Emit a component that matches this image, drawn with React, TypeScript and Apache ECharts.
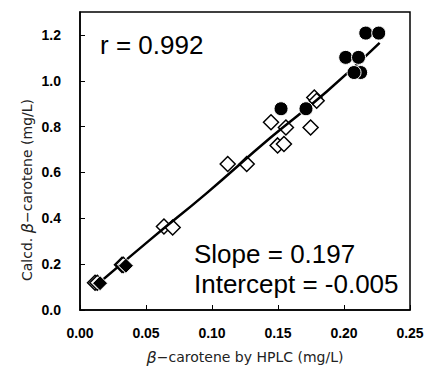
import React, { useEffect, useRef } from "react";
import * as echarts from "echarts";

// Open diamonds (white fill)
const openDiamondX = [0.0114, 0.0131, 0.0318, 0.0328, 0.0636, 0.0702, 0.1119, 0.1263, 0.1447, 0.156, 0.1747, 0.1497, 0.1545, 0.1775, 0.1793];
const openDiamondY = [0.119, 0.119, 0.197, 0.197, 0.364, 0.36, 0.637, 0.637, 0.819, 0.796, 0.796, 0.718, 0.724, 0.927, 0.913];

// Filled diamonds
const filledDiamondX = [0.0152, 0.0348];
const filledDiamondY = [0.117, 0.193];

// Filled circles
const circleX = [0.2126, 0.2076, 0.2013, 0.211, 0.2165, 0.2263, 0.1523, 0.1712];
const circleY = [1.036, 1.036, 1.102, 1.102, 1.208, 1.208, 0.878, 0.878];

// Fitted line
const fitX = [0.0126, 0.053, 0.096, 0.144, 0.187, 0.227];
const fitY = [0.109, 0.306, 0.51, 0.75, 0.953, 1.165];

const annotR = "r = 0.992";
const annotSlope = "Slope = 0.197";
const annotIntercept = "Intercept = -0.005";

const xName = "{i|β}−carotene by HPLC (mg/L)";
const yName = "Calcd. {i|β}−carotene (mg/L)";

const pairs = (xs: number[], ys: number[]) => xs.map((x, i) => [x, ys[i]]);

const FONT = "'Liberation Sans', Arial, sans-serif";
const NAMEFONT = "'DejaVu Sans', 'Liberation Sans', sans-serif";

export default function App() {
  const ref = useRef<HTMLDivElement>(null);
  useEffect(() => {
    if (!ref.current) return;
    const chart = echarts.init(ref.current, null, { renderer: "svg" });
    const nameStyle = {
      fontFamily: NAMEFONT,
      fontSize: 14,
      color: "#222",
      rich: { i: { fontStyle: "italic", fontSize: 16, fontFamily: NAMEFONT, color: "#222" } },
    };
    const labelStyle = {
      fontFamily: FONT,
      fontSize: 14,
      fontWeight: "bold",
      color: "#000",
    };
    chart.setOption({
      animation: false,
      backgroundColor: "#fff",
      grid: {
        left: 80,
        right: 14,
        top: 12,
        bottom: 57,
        outerBoundsMode: "none",
        containLabel: false,
        show: true,
        borderColor: "#000",
        borderWidth: 1.5,
      },
      xAxis: {
        type: "value",
        min: 0,
        max: 0.25,
        interval: 0.05,
        name: xName,
        nameLocation: "middle",
        nameGap: 39,
        nameTextStyle: nameStyle,
        axisLine: { show: true, lineStyle: { color: "#000", width: 1.5 } },
        axisTick: { show: true, inside: true, length: 5, lineStyle: { color: "#000", width: 1 } },
        axisLabel: {
          ...labelStyle,
          margin: 16,
          formatter: (v: number) => v.toFixed(2),
        },
        splitLine: { show: false },
      },
      yAxis: {
        type: "value",
        min: 0,
        max: 1.3,
        interval: 0.2,
        axisLine: { show: true, lineStyle: { color: "#000", width: 1.5 } },
        axisTick: { show: true, inside: true, length: 5, lineStyle: { color: "#000", width: 1 } },
        axisLabel: {
          ...labelStyle,
          margin: 19,
          showMaxLabel: false,
          formatter: (v: number) => (Math.abs(v * 5 - Math.round(v * 5)) < 1e-6 ? v.toFixed(1) : ""),
        },
        splitLine: { show: false },
      },
      series: [
        {
          type: "scatter",
          data: pairs(openDiamondX, openDiamondY),
          symbol: "diamond",
          symbolSize: 15,
          itemStyle: { color: "#fff", borderColor: "#000", borderWidth: 1.5, opacity: 1 },
          z: 2,
        },
        {
          type: "line",
          data: pairs(fitX, fitY),
          smooth: true,
          showSymbol: false,
          symbol: "none",
          lineStyle: { color: "#000", width: 2.5 },
          z: 3,
        },
        {
          type: "scatter",
          data: pairs(filledDiamondX, filledDiamondY),
          symbol: "diamond",
          symbolSize: 15,
          itemStyle: { color: "#000", borderColor: "#fff", borderWidth: 1, opacity: 1 },
          z: 4,
        },
        {
          type: "scatter",
          data: pairs(circleX, circleY),
          symbol: "circle",
          symbolSize: 14,
          itemStyle: { color: "#000", borderColor: "#fff", borderWidth: 1, opacity: 1 },
          z: 5,
        },
      ],
      graphic: [
        {
          type: "text",
          x: 27,
          y: 190,
          rotation: Math.PI / 2,
          style: {
            text: yName,
            fontFamily: NAMEFONT,
            fontSize: 14,
            fill: "#222",
            align: "center",
            verticalAlign: "middle",
            rich: { i: { fontStyle: "italic", fontSize: 16, fontFamily: NAMEFONT, fill: "#222" } },
          },
          z: 10,
        },
        {
          type: "text",
          x: 100,
          y: 45,
          style: { text: annotR, fontFamily: FONT, fontSize: 26, fill: "#000", verticalAlign: "middle" },
          z: 10,
        },
        {
          type: "text",
          x: 194,
          y: 254,
          style: { text: annotSlope, fontFamily: FONT, fontSize: 26, fill: "#000", verticalAlign: "middle" },
          z: 10,
        },
        {
          type: "text",
          x: 194,
          y: 284,
          style: { text: annotIntercept, fontFamily: FONT, fontSize: 26, fill: "#000", verticalAlign: "middle" },
          z: 10,
        },
      ],
    });
    return () => chart.dispose();
  }, []);
  return (
    <div
      ref={ref}
      style={{ position: "absolute", left: 0, top: 0, width: 424, height: 367 }}
    />
  );
}
